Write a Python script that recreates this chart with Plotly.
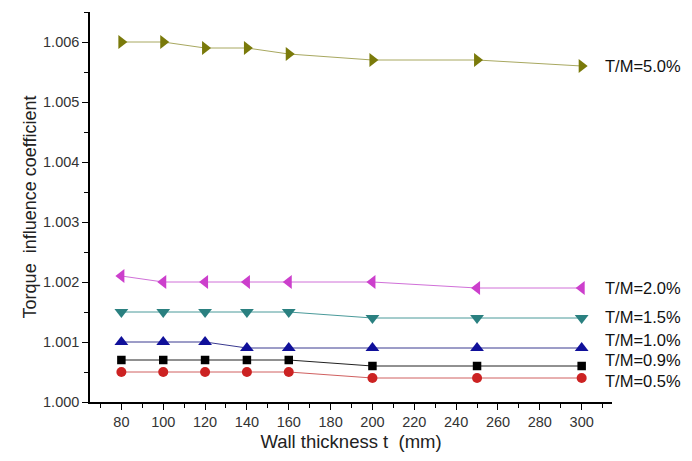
import plotly.graph_objects as go

x_vals = [80, 100, 120, 140, 160, 200, 250, 300]
tm50 = [1.0060, 1.0060, 1.0059, 1.0059, 1.0058, 1.0057, 1.0057, 1.0056]
tm20 = [1.0021, 1.0020, 1.0020, 1.0020, 1.0020, 1.0020, 1.0019, 1.0019]
tm15 = [1.0015, 1.0015, 1.0015, 1.0015, 1.0015, 1.0014, 1.0014, 1.0014]
tm10 = [1.0010, 1.0010, 1.0010, 1.0009, 1.0009, 1.0009, 1.0009, 1.0009]
tm09 = [1.0007, 1.0007, 1.0007, 1.0007, 1.0007, 1.0006, 1.0006, 1.0006]
tm05 = [1.0005, 1.0005, 1.0005, 1.0005, 1.0005, 1.0004, 1.0004, 1.0004]
labels = ["T/M=5.0%", "T/M=2.0%", "T/M=1.5%", "T/M=1.0%", "T/M=0.9%", "T/M=0.5%"]
x_ticks = [80, 100, 120, 140, 160, 180, 200, 220, 240, 260, 280, 300]
y_ticks = [1.000, 1.001, 1.002, 1.003, 1.004, 1.005, 1.006]

series = [tm50, tm20, tm15, tm10, tm09, tm05]
styles = [
    dict(marker="triangle-right", size=12, mcolor="#7a7a0a", lcolor="#a8a860", yshift=0),
    dict(marker="triangle-left", size=12, mcolor="#cc3fcc", lcolor="#d070d8", yshift=0),
    dict(marker="triangle-down", size=12, mcolor="#2a8080", lcolor="#4a9a9a", yshift=1),
    dict(marker="triangle-up", size=12, mcolor="#10109a", lcolor="#3a3a90", yshift=8),
    dict(marker="square", size=8.5, mcolor="#000000", lcolor="#222222", yshift=6),
    dict(marker="circle", size=10, mcolor="#cc2222", lcolor="#d06060", yshift=-3),
]

fig = go.Figure()
for ys, lab, st in zip(series, labels, styles):
    fig.add_trace(go.Scatter(
        x=x_vals, y=ys, mode="lines+markers", name=lab,
        line=dict(color=st["lcolor"], width=1),
        marker=dict(symbol=st["marker"], size=st["size"], color=st["mcolor"]),
        showlegend=False, cliponaxis=False,
    ))
    fig.add_annotation(
        x=x_vals[-1], y=ys[-1], text=lab, showarrow=False,
        xanchor="left", yanchor="middle", xshift=22, yshift=st["yshift"],
        font=dict(family="Liberation Sans, Arial", size=16.5, color="#111111"),
        borderpad=0,
    )

fig.update_layout(
    width=692, height=461,
    margin=dict(l=90, r=80, t=12, b=57),
    paper_bgcolor="white", plot_bgcolor="white",
    font=dict(family="Liberation Sans, Arial", color="#333333"),
)
fig.update_xaxes(
    range=[65, 314.5], tickvals=x_ticks, ticktext=[str(v) for v in x_ticks],
    showgrid=False, zeroline=False, showline=True, linecolor="black", linewidth=1.5,
    ticks="outside", ticklen=6, tickcolor="black",
    minor=dict(dtick=10, tick0=0, ticks="outside", ticklen=4, tickcolor="black", showgrid=False),
    tickfont=dict(size=14.5, color="#333333"),
    title=dict(text="Wall thickness t  (mm)", font=dict(size=18.5, color="#222222"), standoff=6),
)
fig.update_yaxes(
    range=[1.000, 1.0065], tickvals=y_ticks, ticktext=[f"{v:.3f}" for v in y_ticks],
    showgrid=False, zeroline=False, showline=True, linecolor="black", linewidth=1.5,
    ticks="outside", ticklen=6, tickcolor="black",
    minor=dict(dtick=0.0005, tick0=1.0, ticks="outside", ticklen=4, tickcolor="black", showgrid=False),
    tickfont=dict(size=14.5, color="#333333"),
    title=dict(text="Torque  influence coefficient", font=dict(size=18, color="#222222"), standoff=2),
)

fig.write_html("out.html")
